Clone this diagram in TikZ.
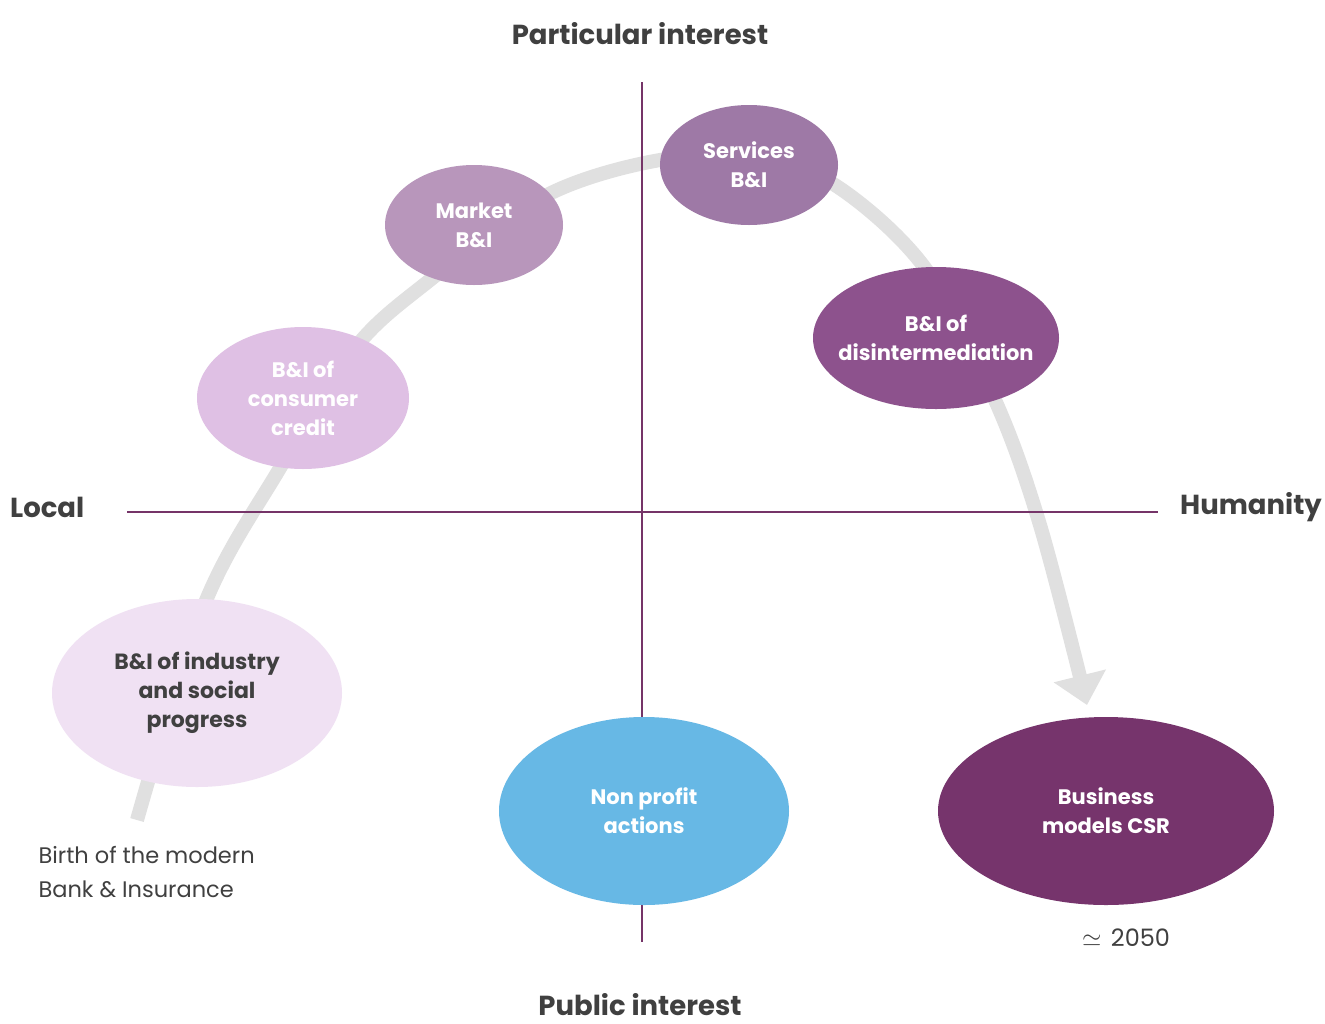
\documentclass[tikz,border=0pt]{standalone}
\usepackage{fontspec}
\setmainfont{Poppins}
\usetikzlibrary{shapes.geometric,arrows.meta}
\definecolor{axisc}{HTML}{753468}
\definecolor{txtc}{HTML}{404040}
\definecolor{curvec}{HTML}{E0E0E0}
\definecolor{cA}{HTML}{F0E1F3}
\definecolor{cB}{HTML}{DFC0E4}
\definecolor{cC}{HTML}{B896BB}
\definecolor{cD}{HTML}{9E79A6}
\definecolor{cE}{HTML}{8D528D}
\definecolor{cF}{HTML}{67B8E5}
\definecolor{cG}{HTML}{76346C}
\begin{document}
\begin{tikzpicture}[x=1pt,y=-1pt,
  blob/.style={ellipse,inner sep=0pt},
  btext/.style={align=center,text=white,inner sep=0pt,
    font=\fontsize{21}{29}\selectfont\bfseries},
  axislabel/.style={text=txtc,inner sep=0pt,font=\fontsize{27.5}{30}\selectfont\bfseries},
  note/.style={text=txtc,align=left,font=\fontsize{22.5}{34}\selectfont},
  axisline/.style={draw=axisc,line width=2pt}]
\useasboundingbox[fill=white] (0,0) rectangle (1325,1023);
% curve
\coordinate (cs) at (137,820);
\coordinate (ce) at (1087,705);
\draw[curvec,line width=14pt,-{Triangle[width=52pt,length=30pt]}]
  plot[smooth,tension=0.55] coordinates {(cs) (205,603) (280,468) (355,348) (430,280) (545,196) (660,160) (760,158) (838,187) (925,268) (995,400) (1040,525) (ce)};
% axes
\coordinate (vt) at (642,82);
\coordinate (vb) at (642,942);
\coordinate (hl) at (127,512);
\coordinate (hr) at (1158,512);
\draw[axisline] (vt) -- (vb);
\draw[axisline] (hl) -- (hr);
% ellipses
\node[blob,fill=cA,minimum width=290pt,minimum height=188pt,
  label={[btext,text=txtc,font=\fontsize{22}{29}\selectfont\bfseries]center:{B\&I of industry\\and social\\progress}}] (ind) at (197,693) {};
\node[blob,fill=cB,minimum width=212pt,minimum height=142pt,
  label={[btext]center:{B\&I of\\consumer\\credit}}] (cc) at (303,398) {};
\node[blob,fill=cC,minimum width=178pt,minimum height=120pt,
  label={[btext]center:{Market\\B\&I}}] (mk) at (474,225) {};
\node[blob,fill=cD,minimum width=178pt,minimum height=120pt,
  label={[btext]center:{Services\\B\&I}}] (sv) at (749,165) {};
\node[blob,fill=cE,minimum width=246pt,minimum height=142pt,
  label={[btext]center:{B\&I of\\disintermediation}}] (dis) at (936,338) {};
\node[blob,fill=cF,minimum width=290pt,minimum height=188pt,
  label={[btext]center:{Non profit\\actions}}] (np) at (644,811) {};
\node[blob,fill=cG,minimum width=336pt,minimum height=188pt,
  label={[btext]center:{Business\\models CSR}}] (bm) at (1106,811) {};
% labels
\node[axislabel] (pi) at (640,34) {Particular interest};
\node[axislabel] (pu) at (640,1005) {Public interest};
\node[axislabel,anchor=west] (lo) at (10,507) {Local};
\node[axislabel,anchor=east] (hu) at (1322,507) {Humanity};
\node[note,anchor=north west] (birth) at (35,843) {Birth of the modern\\Bank \& Insurance};
\node[note,font=\fontsize{24}{30}\selectfont] (yr) at (1126,938) {$\simeq$\hspace{0.4em}2050};
\end{tikzpicture}
\end{document}
